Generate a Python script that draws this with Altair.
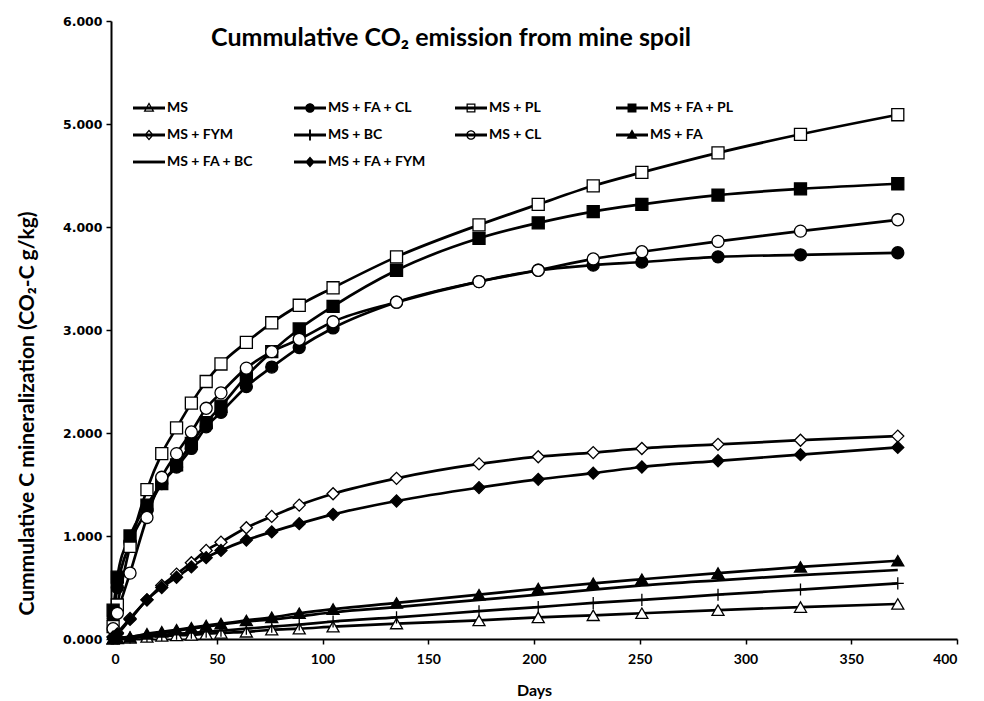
import altair as alt
import pandas as pd

# ---------------- data ----------------
days = [1, 3, 9, 17, 24, 31, 38, 45, 52, 64, 76, 89, 105, 135, 174, 202, 228, 251, 287, 326, 372]

series_names = ["MS", "MS + FA + CL", "MS + PL", "MS + FA + PL",
                "MS + FYM", "MS + BC", "MS + CL", "MS + FA",
                "MS + FA + BC", "MS + FA + FYM"]

ms = [0.002, 0.005, 0.01, 0.02, 0.03, 0.035, 0.04, 0.05, 0.06, 0.07, 0.09, 0.10, 0.12, 0.15, 0.18, 0.21, 0.23, 0.25, 0.28, 0.31, 0.34]
ms_fa_cl = [0.20, 0.50, 0.93, 1.25, 1.51, 1.67, 1.85, 2.06, 2.20, 2.45, 2.64, 2.83, 3.02, 3.27, 3.47, 3.58, 3.63, 3.66, 3.71, 3.73, 3.75]
ms_pl = [0.12, 0.33, 0.90, 1.45, 1.80, 2.05, 2.29, 2.50, 2.67, 2.88, 3.07, 3.24, 3.41, 3.71, 4.02, 4.22, 4.40, 4.53, 4.72, 4.90, 5.09]
ms_fa_pl = [0.28, 0.60, 1.00, 1.30, 1.51, 1.69, 1.90, 2.10, 2.26, 2.55, 2.79, 3.01, 3.23, 3.58, 3.89, 4.04, 4.15, 4.22, 4.31, 4.37, 4.42]
ms_fym = [0.02, 0.06, 0.20, 0.38, 0.52, 0.63, 0.74, 0.86, 0.94, 1.08, 1.19, 1.30, 1.41, 1.56, 1.70, 1.77, 1.81, 1.85, 1.89, 1.93, 1.97]
ms_bc = [0.003, 0.008, 0.015, 0.03, 0.04, 0.05, 0.06, 0.07, 0.08, 0.10, 0.12, 0.14, 0.17, 0.21, 0.27, 0.31, 0.35, 0.38, 0.43, 0.48, 0.54]
ms_cl = [0.10, 0.25, 0.64, 1.18, 1.57, 1.80, 2.01, 2.24, 2.39, 2.63, 2.79, 2.91, 3.08, 3.27, 3.47, 3.58, 3.69, 3.76, 3.86, 3.96, 4.07]
ms_fa = [0.005, 0.01, 0.02, 0.05, 0.07, 0.09, 0.11, 0.13, 0.15, 0.18, 0.21, 0.25, 0.29, 0.35, 0.43, 0.49, 0.54, 0.58, 0.64, 0.70, 0.76]
ms_fa_bc = [0.004, 0.01, 0.02, 0.04, 0.06, 0.08, 0.10, 0.12, 0.14, 0.17, 0.19, 0.22, 0.26, 0.31, 0.38, 0.43, 0.48, 0.52, 0.57, 0.62, 0.67]
ms_fa_fym = [0.02, 0.05, 0.19, 0.38, 0.50, 0.60, 0.70, 0.79, 0.86, 0.96, 1.04, 1.12, 1.21, 1.34, 1.47, 1.55, 1.61, 1.67, 1.73, 1.79, 1.86]

series_values = [ms, ms_fa_cl, ms_pl, ms_fa_pl, ms_fym, ms_bc, ms_cl, ms_fa, ms_fa_bc, ms_fa_fym]

x_ticks = [0, 50, 100, 150, 200, 250, 300, 350, 400]
y_ticks = [0, 1, 2, 3, 4, 5, 6]

# ---------------- styles ----------------
PLUS = "M-1,0H1M0,-1V1"
NONE = "M0,0"
style_shape = {"MS": "triangle-up", "MS + FA + CL": "circle", "MS + PL": "square",
               "MS + FA + PL": "square", "MS + FYM": "diamond", "MS + BC": PLUS,
               "MS + CL": "circle", "MS + FA": "triangle-up", "MS + FA + BC": NONE,
               "MS + FA + FYM": "diamond"}
style_fill = {"MS": "white", "MS + FA + CL": "black", "MS + PL": "white",
              "MS + FA + PL": "black", "MS + FYM": "white", "MS + BC": "black",
              "MS + CL": "white", "MS + FA": "black", "MS + FA + BC": "black",
              "MS + FA + FYM": "black"}

# legend symbols: solid-filled paths (open markers drawn as rings), line through them
LINE = "M-1,-0.09H1V0.09H-1Z"
TRI_F = "M0,-0.36L0.34,0.24L-0.34,0.24Z"
TRI_O = TRI_F + "M0,-0.198L-0.203,0.16L0.203,0.16Z"
CIR_F = "M0.3,0A0.3,0.3 0 1,1 -0.3,0A0.3,0.3 0 1,1 0.3,0Z"
CIR_O = CIR_F + "M0.22,0A0.22,0.22 0 1,0 -0.22,0A0.22,0.22 0 1,0 0.22,0Z"
SQ_F = "M-0.28,-0.28H0.28V0.28H-0.28Z"
SQ_O = SQ_F + "M-0.2,-0.2V0.2H0.2V-0.2Z"
DIA_F = "M0,-0.34L0.3,0L0,0.34L-0.3,0Z"
DIA_O = DIA_F + "M0,-0.219L-0.193,0L0,0.219L0.193,0Z"
PLB = "M-0.06,-0.34H0.06V0.34H-0.06Z"
legend_shape = {"MS": LINE + TRI_O, "MS + FA + CL": LINE + CIR_F, "MS + PL": LINE + SQ_O,
                "MS + FA + PL": LINE + SQ_F, "MS + FYM": LINE + DIA_O, "MS + BC": LINE + PLB,
                "MS + CL": LINE + CIR_O, "MS + FA": LINE + TRI_F, "MS + FA + BC": LINE,
                "MS + FA + FYM": LINE + DIA_F}

# Vega fills legend columns first (rows = ceil(n/4) = 3); this order makes the
# legend read row by row like the reference.
legend_order = ["MS", "MS + FYM", "MS + FA", "MS + FA + CL", "MS + BC",
                "MS + FA + BC", "MS + PL", "MS + CL", "MS + FA + FYM", "MS + FA + PL"]

rows = []
for name, vals in zip(series_names, series_values):
    for d, v in zip(days, vals):
        rows.append({"series": name, "day": d, "value": v})
df = pd.DataFrame(rows)

FONT = "Lato"

x_enc = alt.X("day:Q", scale=alt.Scale(domain=[0, 400], nice=False),
              axis=alt.Axis(values=x_ticks, format="d", title="Days",
                            titleX=423, titleY=51, titleBaseline="middle",
                            titleAlign="center", labelPadding=8))
y_enc = alt.Y("value:Q", scale=alt.Scale(domain=[0, 6], nice=False),
              axis=alt.Axis(values=y_ticks, format=".3f",
                            title="Cummulative C mineralization (CO₂-C g/kg)",
                            titleX=-84, titleY=392, titleAngle=270,
                            titleAlign="center", titleBaseline="middle",
                            labelPadding=4, labelFont="DejaVu Sans",
                            labelFontSize=12.5))

base = alt.Chart(df)

legend_cfg = alt.Legend(orient="none", legendX=22, legendY=71, columns=4,
                        symbolSize=1024, symbolStrokeWidth=0,
                        symbolOpacity=1,
                        labelFont=FONT, labelFontSize=14, labelFontWeight="bold",
                        labelColor="black", labelOffset=2, columnPadding=29,
                        rowPadding=4, gridAlign="all", padding=0, title=None,
                        labelLimit=300)

# tiny points (drawn first, hidden under the lines and markers) that carry the legend
legend_layer = base.mark_point(filled=True, fill="black", strokeWidth=0, size=1, opacity=1).encode(
    x=x_enc, y=y_enc,
    shape=alt.Shape("series:N", scale=alt.Scale(domain=legend_order,
                                                range=[legend_shape[s] for s in legend_order]),
                    legend=legend_cfg),
)

lines = base.mark_line(color="black", strokeWidth=2.7, interpolate="monotone").encode(
    x=x_enc, y=y_enc, detail="series:N")

points = base.mark_point(filled=True, stroke="black", strokeWidth=1.3, opacity=1, size=145).encode(
    x=x_enc, y=y_enc,
    shape=alt.Shape("series:N", scale=alt.Scale(domain=series_names,
                                                range=[style_shape[s] for s in series_names]),
                    legend=None),
    fill=alt.Fill("series:N", scale=alt.Scale(domain=series_names,
                                              range=[style_fill[s] for s in series_names]),
                  legend=None),
)

chart = alt.layer(legend_layer, lines, points).resolve_scale(
    shape="independent"
).properties(
    width=846, height=618,
    autosize=alt.AutoSizeParams(type="none"),
    padding={"left": 111, "top": 21, "right": 27, "bottom": 62},
    title=alt.TitleParams("Cummulative CO₂ emission from mine spoil", font=FONT,
                          fontSize=25, fontWeight="bold", color="black",
                          anchor="middle", frame="group", orient="top",
                          offset=-32, baseline="alphabetic", dx=-83, dy=24),
).configure_view(stroke="transparent").configure_axis(
    grid=False, domainColor="black", domainWidth=2, tickColor="black",
    tickWidth=1.5, tickSize=5, labelFont=FONT, labelFontSize=14,
    labelFontWeight="bold", labelColor="black", titleFont=FONT,
    titleFontSize=21, titleFontWeight="bold", titleColor="black"
).configure_axisX(labelFontSize=14, titleFontSize=16)

chart.save("out.html", embed_options={"renderer": "svg", "actions": False})
